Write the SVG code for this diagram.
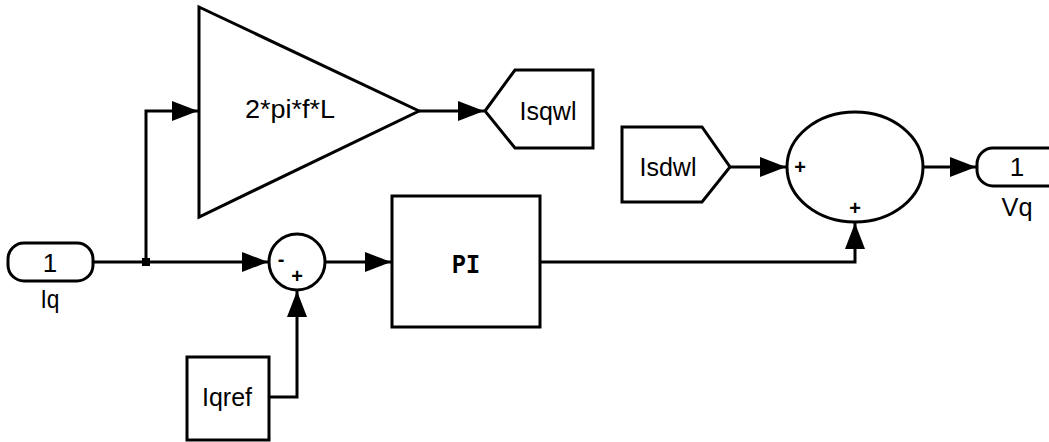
<svg xmlns="http://www.w3.org/2000/svg" width="1049" height="442" viewBox="0 0 1049 442">
<style>
.blk{fill:#fff;stroke:#000;stroke-width:3;stroke-linejoin:miter}
.ln{fill:none;stroke:#000;stroke-width:3}
.t{font-family:"Liberation Sans",Arial,sans-serif;font-size:26px;fill:#000;text-anchor:middle}
.m{font-family:"Liberation Mono","Courier New",monospace;font-size:28px;font-weight:bold;fill:#000;text-anchor:middle}
.s{font-family:"Liberation Sans",Arial,sans-serif;font-size:20px;font-weight:bold;fill:#000;text-anchor:middle}
</style>
<defs>
<marker id="arr" markerUnits="userSpaceOnUse" markerWidth="27" markerHeight="22" refX="26" refY="10" orient="auto">
<path d="M0,0 L26,10 L0,20 Z" fill="#000"/>
</marker>
</defs>
<rect width="1049" height="442" fill="#fff"/>

<g id="connectors">
<path class="ln" d="M93,262 H268" marker-end="url(#arr)"/>
<path class="ln" d="M146,262 V111 H198" marker-end="url(#arr)"/>
<path class="ln" d="M419,111 H484" marker-end="url(#arr)"/>
<path class="ln" d="M325,262 H391" marker-end="url(#arr)"/>
<path class="ln" d="M269,397 H297 V291" marker-end="url(#arr)"/>
<path class="ln" d="M540,262 H855 V223" marker-end="url(#arr)"/>
<path class="ln" d="M730,167 H786" marker-end="url(#arr)"/>
<path class="ln" d="M923,167 H976" marker-end="url(#arr)"/>
<rect x="142" y="258" width="8" height="8" fill="#000"/>
</g>

<g id="Iq">
<rect class="blk" x="8" y="243" width="85" height="38" rx="16" ry="16"/>
<text class="t" x="50" y="272">1</text>
<text class="t" x="50" y="308" textLength="19" lengthAdjust="spacingAndGlyphs">Iq</text>
</g>

<g id="Gain">
<polygon class="blk" points="199,7 419,111 199,217"/>
<text class="t" x="290" y="118" textLength="90" lengthAdjust="spacingAndGlyphs">2*pi*f*L</text>
</g>

<g id="Isqwl">
<polygon class="blk" points="485,111 515,70 593,70 593,148 515,148"/>
<text class="t" x="548" y="120" textLength="57" lengthAdjust="spacingAndGlyphs">Isqwl</text>
</g>

<g id="Sum1">
<circle class="blk" cx="297" cy="262" r="28"/>
<text class="s" x="281" y="266">-</text>
<text class="s" x="297" y="283">+</text>
</g>

<g id="Iqref">
<rect class="blk" x="187" y="357" width="82" height="83"/>
<text class="t" x="227" y="406" textLength="50" lengthAdjust="spacingAndGlyphs">Iqref</text>
</g>

<g id="PI">
<rect class="blk" x="392" y="196" width="148" height="131"/>
<text class="m" x="466" y="273" textLength="28" lengthAdjust="spacingAndGlyphs">PI</text>
</g>

<g id="Isdwl">
<polygon class="blk" points="622,127 702,127 730,167 702,202 622,202"/>
<text class="t" x="668" y="176" textLength="57" lengthAdjust="spacingAndGlyphs">Isdwl</text>
</g>

<g id="Sum2">
<ellipse class="blk" cx="855" cy="167" rx="68" ry="55"/>
<text class="s" x="800" y="174">+</text>
<text class="s" x="855" y="215">+</text>
</g>

<g id="Vq">
<rect class="blk" x="977" y="148" width="86" height="38" rx="16" ry="16"/>
<text class="t" x="1017" y="176">1</text>
<text class="t" x="1017" y="216" textLength="31" lengthAdjust="spacingAndGlyphs">Vq</text>
</g>
</svg>
